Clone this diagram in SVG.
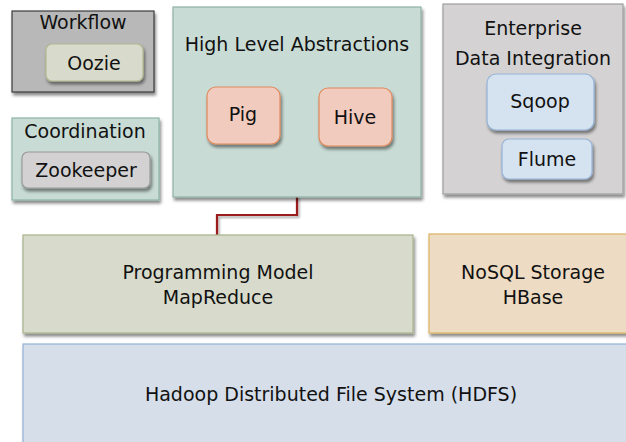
<svg xmlns="http://www.w3.org/2000/svg" width="626" height="442" viewBox="0 0 626 442">
<defs>
<filter id="sh" x="-10%" y="-10%" width="130%" height="130%">
<feDropShadow dx="1.5" dy="3" stdDeviation="1.5" flood-color="#000" flood-opacity="0.45"/>
</filter>
<filter id="lsh" x="-50%" y="-50%" width="200%" height="200%">
<feDropShadow dx="1.5" dy="2" stdDeviation="1" flood-color="#000" flood-opacity="0.35"/>
</filter>
</defs>
<style>
text{font-family:"DejaVu Sans","Liberation Sans",sans-serif;font-size:19px;fill:#111;text-anchor:middle}
.box{filter:url(#sh);stroke-width:1.2}
.conn{fill:none;stroke:#9a1b1e;stroke-width:2.2;filter:url(#lsh)}
</style>
<rect width="626" height="442" fill="#fff"/>
<g id="connectors">
<polyline class="conn" points="297,196 297,215 217,215 217,235"/>
<line class="conn" x1="533" y1="194" x2="533" y2="234"/>
</g>
<g id="workflow">
<rect class="box" x="12" y="11" width="142" height="81" fill="#b8b8b8" stroke="#3a3a3a"/>
<text x="83" y="29">Workflow</text>
</g>
<g id="oozie">
<rect class="box" x="46" y="44" width="97" height="37" rx="6" fill="#d8dbcb" stroke="#b3b891"/>
<text x="94" y="70">Oozie</text>
</g>
<g id="coordination">
<rect class="box" x="12" y="118" width="147" height="82" fill="#c8dbd4" stroke="#8db3a8"/>
<text x="85" y="138">Coordination</text>
</g>
<g id="zookeeper">
<rect class="box" x="22" y="152" width="128" height="36" rx="6" fill="#d3d1d1" stroke="#9a9a9a"/>
<text x="86" y="177">Zookeeper</text>
</g>
<g id="hla">
<rect class="box" x="173" y="7" width="248" height="190" fill="#c9dbd5" stroke="#8fb1a6"/>
<text x="297" y="51">High Level Abstractions</text>
</g>
<g id="pig">
<rect class="box" x="207" y="87" width="73" height="57" rx="9" fill="#f1cbbd" stroke="#e08a5c"/>
<text x="243" y="121">Pig</text>
</g>
<g id="hive">
<rect class="box" x="319" y="88" width="73" height="58" rx="9" fill="#f1cbbd" stroke="#e08a5c"/>
<text x="355" y="124">Hive</text>
</g>
<g id="enterprise">
<rect class="box" x="443" y="4" width="180" height="190" fill="#d4d2d2" stroke="#9e9e9e"/>
<text x="533" y="35">Enterprise</text>
<text x="533" y="65">Data Integration</text>
</g>
<g id="sqoop">
<rect class="box" x="487" y="74" width="107" height="56" rx="9" fill="#d5e2ef" stroke="#95b3d7"/>
<text x="540" y="108">Sqoop</text>
</g>
<g id="flume">
<rect class="box" x="502" y="139" width="90" height="40" rx="7" fill="#d5e2ef" stroke="#95b3d7"/>
<text x="547" y="166">Flume</text>
</g>
<g id="mapreduce">
<rect class="box" x="23" y="235" width="390" height="98" fill="#d8dbcc" stroke="#a9b38a"/>
<text x="218" y="279">Programming Model</text>
<text x="218" y="304">MapReduce</text>
</g>
<g id="hbase">
<rect class="box" x="429" y="234" width="210" height="99" fill="#eddcc3" stroke="#dbb462"/>
<text x="533" y="279">NoSQL Storage</text>
<text x="533" y="304">HBase</text>
</g>
<g id="hdfs">
<rect class="box" x="23" y="344" width="620" height="110" fill="#d5dee9" stroke="#95b3d7"/>
<text x="331" y="401">Hadoop Distributed File System (HDFS)</text>
</g>
</svg>
